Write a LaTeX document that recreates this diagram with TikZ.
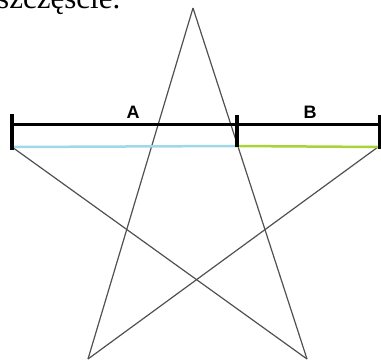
\documentclass[tikz,border=0pt]{standalone}
\usepackage{fontspec}
\setmainfont{Liberation Serif}
\newfontfamily\labfont{Liberation Sans}
\definecolor{starg}{HTML}{505050}
\definecolor{segA}{HTML}{9FD8E6}
\definecolor{segB}{HTML}{A8D43A}
\tikzset{
  starline/.style={draw=starg, line width=1.2pt},
  barline/.style={draw=black, line width=3pt},
  tickline/.style={draw=black, line width=3.2pt},
  lab/.style={font=\labfont\bfseries\fontsize{18}{18}\selectfont, inner sep=0pt},
}
\begin{document}
\begin{tikzpicture}[x=1pt,y=-1pt]
\useasboundingbox (0,0) rectangle (381,360);
\begin{scope}
\clip (0,0) rectangle (381,360);
\node[anchor=base west, inner sep=0pt, font=\fontsize{31}{31}\selectfont] (title) at (-3,8) {szczęście.};
\coordinate (T) at (193,8);
\coordinate (L) at (12,147);
\coordinate (R) at (378,147);
\coordinate (BL) at (88,359);
\coordinate (BR) at (307,359);
\coordinate (M) at (237,146);
\draw[starline] (T) -- (BL);
\draw[starline] (T) -- (BR);
\draw[starline] (L) -- (BR);
\draw[starline] (R) -- (BL);
\draw[draw=segA, line width=2.5pt] (L) -- (M);
\draw[draw=segB, line width=2.5pt] (M) -- (R);
\coordinate (l1) at (12,124);
\coordinate (r1) at (380,124);
\draw[barline] (l1) -- (r1);
\coordinate (lt1) at (12,114);
\coordinate (lt2) at (12,150);
\coordinate (mt1) at (237,115);
\coordinate (mt2) at (237,147);
\coordinate (rt1) at (380,115);
\coordinate (rt2) at (380,149);
\draw[tickline] (lt1) -- (lt2);
\draw[tickline] (mt1) -- (mt2);
\draw[tickline] (rt1) -- (rt2);
\node[lab] (A) at (133,112) {A};
\node[lab] (B) at (310,112) {B};
\end{scope}
\end{tikzpicture}
\end{document}
